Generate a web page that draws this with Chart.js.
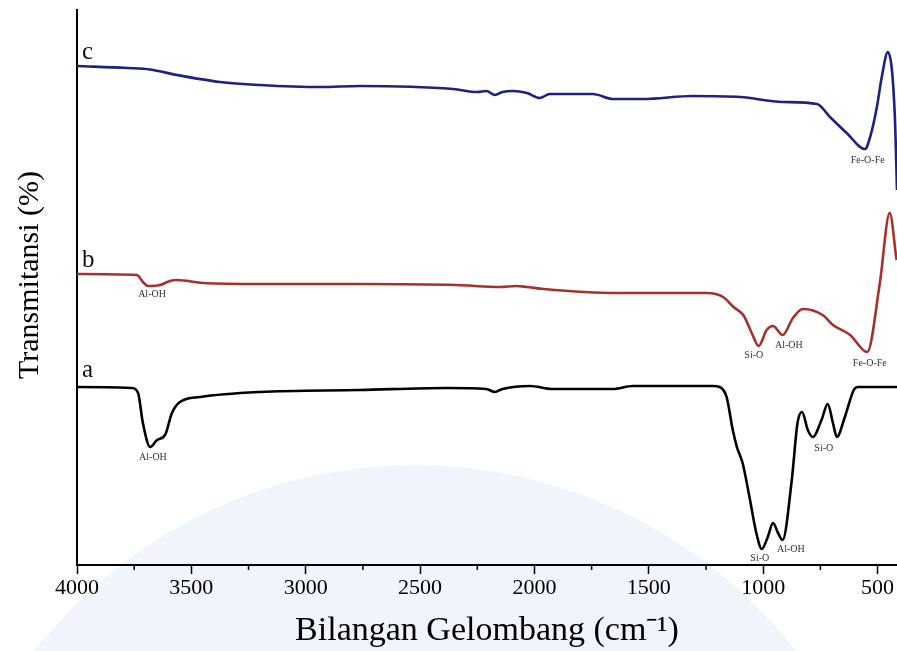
<!DOCTYPE html>
<html>
<head>
<meta charset="utf-8">
<script src="https://cdn.jsdelivr.net/npm/chart.js@4.4.1/dist/chart.umd.min.js"></script>
<style>
  html, body { margin: 0; padding: 0; background: #fff; }
  #wrap { width: 897px; height: 651px; }
</style>
</head>
<body>
<div id="wrap"><canvas id="c" width="897" height="651"></canvas></div>
<script>
// ---- Data (wavenumber cm-1, transmittance in arbitrary offset units) ----
const waveC = [4000, 3780, 3680, 3563, 3375, 3200, 2938, 2763, 2355, 2250, 2210, 2173, 2140, 2095, 2033, 1977, 1933, 1745, 1657, 1525, 1308, 1100, 915, 765, 708, 635, 555, 530, 503, 480, 455, 425, 415];
const transC = [99.8, 99.4, 99.1, 98.0, 96.6, 96.0, 95.6, 95.8, 95.2, 94.6, 94.8, 94.0, 94.6, 94.8, 94.4, 93.4, 94.2, 94.2, 93.2, 93.2, 93.8, 93.6, 92.6, 92.2, 89.6, 86.4, 83.2, 86.0, 91.6, 98.0, 102.6, 90.4, 75.0];

const waveB = [4000, 3738, 3712, 3690, 3637, 3594, 3563, 3450, 3200, 2763, 2340, 2150, 2080, 2033, 1960, 1640, 1246, 1175, 1130, 1087, 1050, 1020, 985, 957, 915, 870, 827, 740, 695, 620, 545, 490, 447, 417];
const transB = [58.2, 58.0, 56.6, 55.8, 56.0, 56.8, 57.0, 56.4, 56.2, 56.2, 56.0, 55.6, 55.8, 55.6, 55.2, 54.4, 54.4, 53.6, 51.6, 50.0, 46.4, 43.8, 47.0, 47.8, 46.0, 49.4, 51.2, 50.0, 48.0, 46.0, 42.6, 56.4, 70.4, 61.0];

const waveA = [4000, 3760, 3733, 3712, 3680, 3650, 3615, 3585, 3550, 3462, 3200, 2763, 2383, 2210, 2173, 2140, 2020, 1920, 1657, 1570, 1220, 1190, 1160, 1133, 1115, 1090, 1060, 1030, 1006, 980, 957, 935, 915, 875, 850, 830, 805, 783, 745, 718, 695, 678, 643, 604, 585, 415];
const transA = [35.6, 35.4, 34.4, 28.4, 23.6, 25.0, 26.0, 30.4, 32.6, 33.6, 34.6, 35.0, 35.4, 35.2, 34.6, 35.2, 35.8, 35.2, 35.2, 35.8, 35.8, 35.6, 33.6, 27.0, 23.6, 20.4, 13.6, 6.4, 3.2, 5.6, 8.4, 6.4, 5.0, 17.0, 28.4, 30.6, 27.0, 25.6, 29.0, 32.2, 28.4, 25.6, 29.6, 35.0, 35.6, 35.6];

const majorTicks = [4000, 3500, 3000, 2500, 2000, 1500, 1000, 500];
const minorTicks = [3750, 3250, 2750, 2250, 1750, 1250, 750];

// annotation labels: text, wavenumber, transmittance
const noteText = ['c', 'b', 'a', 'Al-OH', 'Fe-O-Fe', 'Al-OH', 'Si-O', 'Al-OH', 'Fe-O-Fe', 'Si-O', 'Al-OH', 'Si-O'];
const noteWave = [3978, 3978, 3978, 3672, 543, 3668, 1041, 888, 534, 1015, 879, 735];
const noteTrans = [102.6, 61.0, 39.0, 54.2, 81.0, 21.6, 42.0, 44.0, 40.4, 1.4, 3.2, 23.4];
const noteBig = [true, true, true, false, false, false, false, false, false, false, false, false];

const yTitle = 'Transmitansi (%)';
const xTitle = 'Bilangan Gelombang (cm\u207B\u00B9)';

const SERIF = '"Liberation Serif", "Times New Roman", serif';

const toXY = (xs, ys) => xs.map((x, i) => ({ x: x, y: ys[i] }));

const watermark = {
  id: 'watermark',
  beforeDraw(chart) {
    const ctx = chart.ctx;
    ctx.save();
    ctx.fillStyle = '#f0f4fb';
    ctx.beginPath();
    ctx.arc(415, 948, 483, 0, Math.PI * 2);
    ctx.fill();
    ctx.restore();
  }
};

const extras = {
  id: 'extras',
  afterDraw(chart) {
    const ctx = chart.ctx;
    const xs = chart.scales.x, ys = chart.scales.y;
    ctx.save();
    // minor ticks
    ctx.strokeStyle = '#000';
    ctx.lineWidth = 1.5;
    minorTicks.forEach(v => {
      const px = xs.getPixelForValue(v);
      ctx.beginPath();
      ctx.moveTo(px, ys.bottom);
      ctx.lineTo(px, ys.bottom + 5);
      ctx.stroke();
    });
    // y-axis title
    ctx.save();
    ctx.translate(30, 275);
    ctx.rotate(-Math.PI / 2);
    ctx.font = '30px ' + SERIF;
    ctx.fillStyle = '#000';
    ctx.textAlign = 'center';
    ctx.textBaseline = 'middle';
    ctx.fillText(yTitle, 0, 0);
    ctx.restore();
    // annotations
    noteText.forEach((t, i) => {
      const px = xs.getPixelForValue(noteWave[i]);
      const py = ys.getPixelForValue(noteTrans[i]);
      if (noteBig[i]) {
        ctx.font = '25px ' + SERIF;
        ctx.fillStyle = '#111';
        ctx.textAlign = 'left';
      } else {
        ctx.font = '10px ' + SERIF;
        ctx.fillStyle = '#333';
        ctx.textAlign = 'center';
      }
      ctx.textBaseline = 'middle';
      ctx.fillText(t, px, py);
    });
    ctx.restore();
  }
};

new Chart(document.getElementById('c'), {
  type: 'line',
  data: {
    datasets: [
      { label: 'c', data: toXY(waveC, transC), borderColor: '#1d2280', borderWidth: 2.6 },
      { label: 'b', data: toXY(waveB, transB), borderColor: '#a8302c', borderWidth: 2.6 },
      { label: 'a', data: toXY(waveA, transA), borderColor: '#000000', borderWidth: 2.6 }
    ]
  },
  options: {
    responsive: false,
    animation: false,
    layout: { padding: { top: 10, right: 0, left: 0, bottom: 0 } },
    elements: {
      point: { radius: 0 },
      line: { cubicInterpolationMode: 'monotone', fill: false }
    },
    plugins: {
      legend: { display: false },
      tooltip: { enabled: false }
    },
    scales: {
      x: {
        type: 'linear',
        reverse: true,
        min: 415,
        max: 4000,
        afterBuildTicks(scale) {
          scale.ticks = majorTicks.map(v => ({ value: v }));
        },
        afterFit(scale) { scale.height = 86; },
        ticks: {
          autoSkip: false,
          maxRotation: 0,
          padding: 1,
          color: '#000',
          font: { family: SERIF, size: 22 },
          callback: v => String(v)
        },
        grid: {
          display: true,
          drawOnChartArea: false,
          drawTicks: true,
          tickLength: 9,
          tickWidth: 1.5,
          tickColor: '#000'
        },
        border: { display: true, color: '#000', width: 2 },
        title: {
          display: true,
          text: xTitle,
          color: '#000',
          font: { family: SERIF, size: 34 },
          padding: { top: 0, bottom: 0 }
        }
      },
      y: {
        type: 'linear',
        min: 0,
        max: 111,
        afterFit(scale) { scale.width = 77; },
        ticks: { display: false },
        grid: { display: false },
        border: { display: true, color: '#000', width: 2 },
        title: { display: false }
      }
    }
  },
  plugins: [watermark, extras]
});
</script>
</body>
</html>
